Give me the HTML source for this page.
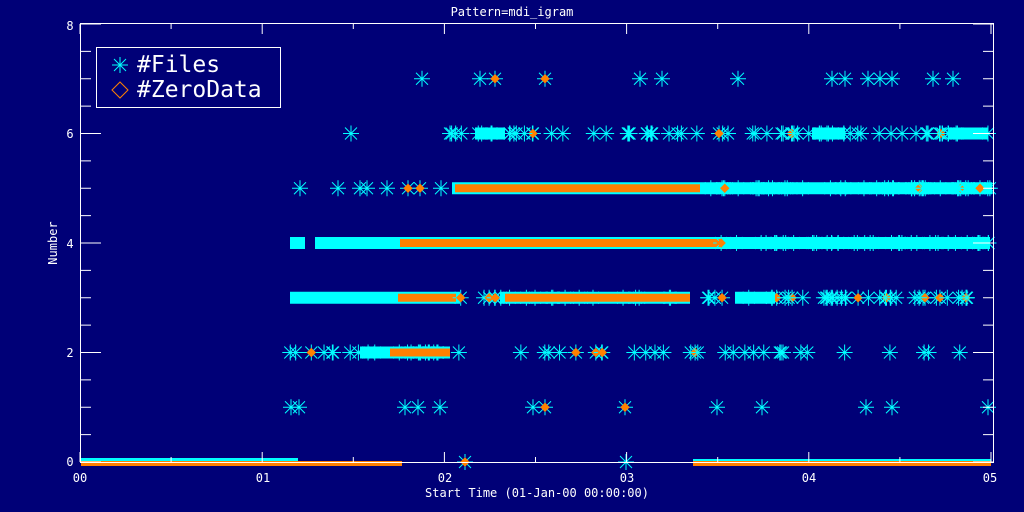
<!DOCTYPE html>
<html><head><meta charset="utf-8"><style>
html,body{margin:0;padding:0;background:#000077;}
svg{display:block}
text{font-family:"DejaVu Sans Mono","Liberation Mono",monospace;fill:#fff;}
</style></head><body>
<svg id="s" width="1024" height="512" viewBox="0 0 1024 512" xmlns="http://www.w3.org/2000/svg">
<rect width="1024" height="512" fill="#000077"/>
<g id="data"></g>
<g stroke="#fff" stroke-width="1" fill="none" id="axes">
<rect x="80.5" y="23.5" width="913" height="439"/>
</g>
<g font-size="12">
<text x="512" y="16" text-anchor="middle">Pattern=mdi_igram</text>
<text x="537" y="497" text-anchor="middle">Start Time (01-Jan-00 00:00:00)</text>
<text x="57" y="243" text-anchor="middle" transform="rotate(-90 57 243)">Number</text>
<text x="70" y="466" text-anchor="middle">0</text>
<text x="70" y="357" text-anchor="middle">2</text>
<text x="70" y="248" text-anchor="middle">4</text>
<text x="70" y="138" text-anchor="middle">6</text>
<text x="70" y="30" text-anchor="middle">8</text>
<text x="80" y="482" text-anchor="middle">00</text>
<text x="263" y="482" text-anchor="middle">01</text>
<text x="445" y="482" text-anchor="middle">02</text>
<text x="627" y="482" text-anchor="middle">03</text>
<text x="809" y="482" text-anchor="middle">04</text>
<text x="990" y="482" text-anchor="middle">05</text>
</g>
<rect x="96.5" y="47.5" width="184" height="60" fill="#000077" stroke="#fff"/>
<g stroke="#00ffff" stroke-width="1">
<line x1="112" y1="65" x2="128" y2="65"/><line x1="120" y1="57" x2="120" y2="73"/>
<line x1="114" y1="59" x2="126" y2="71"/><line x1="126" y1="59" x2="114" y2="71"/>
</g>
<polygon points="120,82 128,90 120,98 112,90" fill="none" stroke="#ff8000"/>
<g font-size="23"><text x="137" y="72">#Files</text><text x="137" y="97">#ZeroData</text></g>
</svg>
<script>
var ns="http://www.w3.org/2000/svg",d=document.getElementById("data"),ax=document.getElementById("axes");
function el(t,a,p){var e=document.createElementNS(ns,t);for(var k in a)e.setAttribute(k,a[k]);(p||d).appendChild(e);return e;}
var seed=7;function r(){seed=(seed*16807)%2147483647;return seed/2147483647;}
function Y(v){return 462-v*54.75;}
for(var i=0;i<=10;i++){var x=80+i*182.2/2,L=i%2?5:10;if(x>993)break;el("line",{x1:x,y1:462,x2:x,y2:462-L,stroke:"#fff"},ax);el("line",{x1:x,y1:24,x2:x,y2:24+L,stroke:"#fff"},ax);}
for(var j=0;j<=16;j++){var y=462-j*27.375,L=j%4?10:20;el("line",{x1:81,y1:y,x2:81+L,y2:y,stroke:"#fff"},ax);el("line",{x1:993,y1:y,x2:993-L,y2:y,stroke:"#fff"},ax);}
function star(x,y,c){var g=el("g",{stroke:c||"#00ffff"});el("line",{x1:x-8,y1:y,x2:x+8,y2:y},g);el("line",{x1:x,y1:y-8,x2:x,y2:y+8},g);el("line",{x1:x-6,y1:y-6,x2:x+6,y2:y+6},g);el("line",{x1:x+6,y1:y-6,x2:x-6,y2:y+6},g);}
function dia(x,y){el("polygon",{points:(x)+","+(y-4)+" "+(x+4)+","+y+" "+x+","+(y+4)+" "+(x-4)+","+y,fill:"#ff8000",stroke:"#ff8000"});}
function band(v,x1,x2,c){el("rect",{x:x1,y:Y(v)-6,width:x2-x1,height:12,fill:c||"#00ffff"});}
function oband(v,x1,x2){el("rect",{x:x1,y:Y(v)-4,width:x2-x1,height:8,fill:"#ff8000"});}
function scatter(v,x1,x2,n,po){for(var i=0;i<n;i++){var x=x1+r()*(x2-x1);star(x,Y(v));if(r()<po)dia(x,Y(v));}}
[422,480,495,545,640,662,738,832,845,868,880,892,933,953].forEach(function(x){star(x,Y(7));});dia(495,Y(7));dia(545,Y(7));
star(351,Y(6));scatter(6,450,990,70,0.15);band(6,812,845);band(6,948,988);band(6,475,505);
[300,338,360,367,387,408,420,441].forEach(function(x){star(x,Y(5));});dia(408,Y(5));dia(420,Y(5));
band(5,452,992);oband(5,455,700);scatter(5,700,992,40,0.05);
band(4,290,305);band(4,315,990);oband(4,400,720);scatter(4,720,990,40,0.05);
band(3,290,460);oband(3,398,456);scatter(3,460,990,60,0.15);band(3,500,690);oband(3,505,690);band(3,735,775);
scatter(2,290,460,25,0.1);band(2,360,450);oband(2,390,450);scatter(2,500,990,30,0.15);
[291,299,405,418,440,533,545,625,717,762,866,892,988].forEach(function(x){star(x,Y(1));});dia(545,Y(1));dia(625,Y(1));
el("rect",{x:81,y:458,width:217,height:4,fill:"#00ffff"});
el("rect",{x:81,y:461,width:321,height:5,fill:"#ff8000"});
el("rect",{x:693,y:459,width:298,height:3,fill:"#00ffff"});
el("rect",{x:693,y:461,width:298,height:5,fill:"#ff8000"});
star(465,462);dia(465,462);star(626,462);
</script>
</body></html>
